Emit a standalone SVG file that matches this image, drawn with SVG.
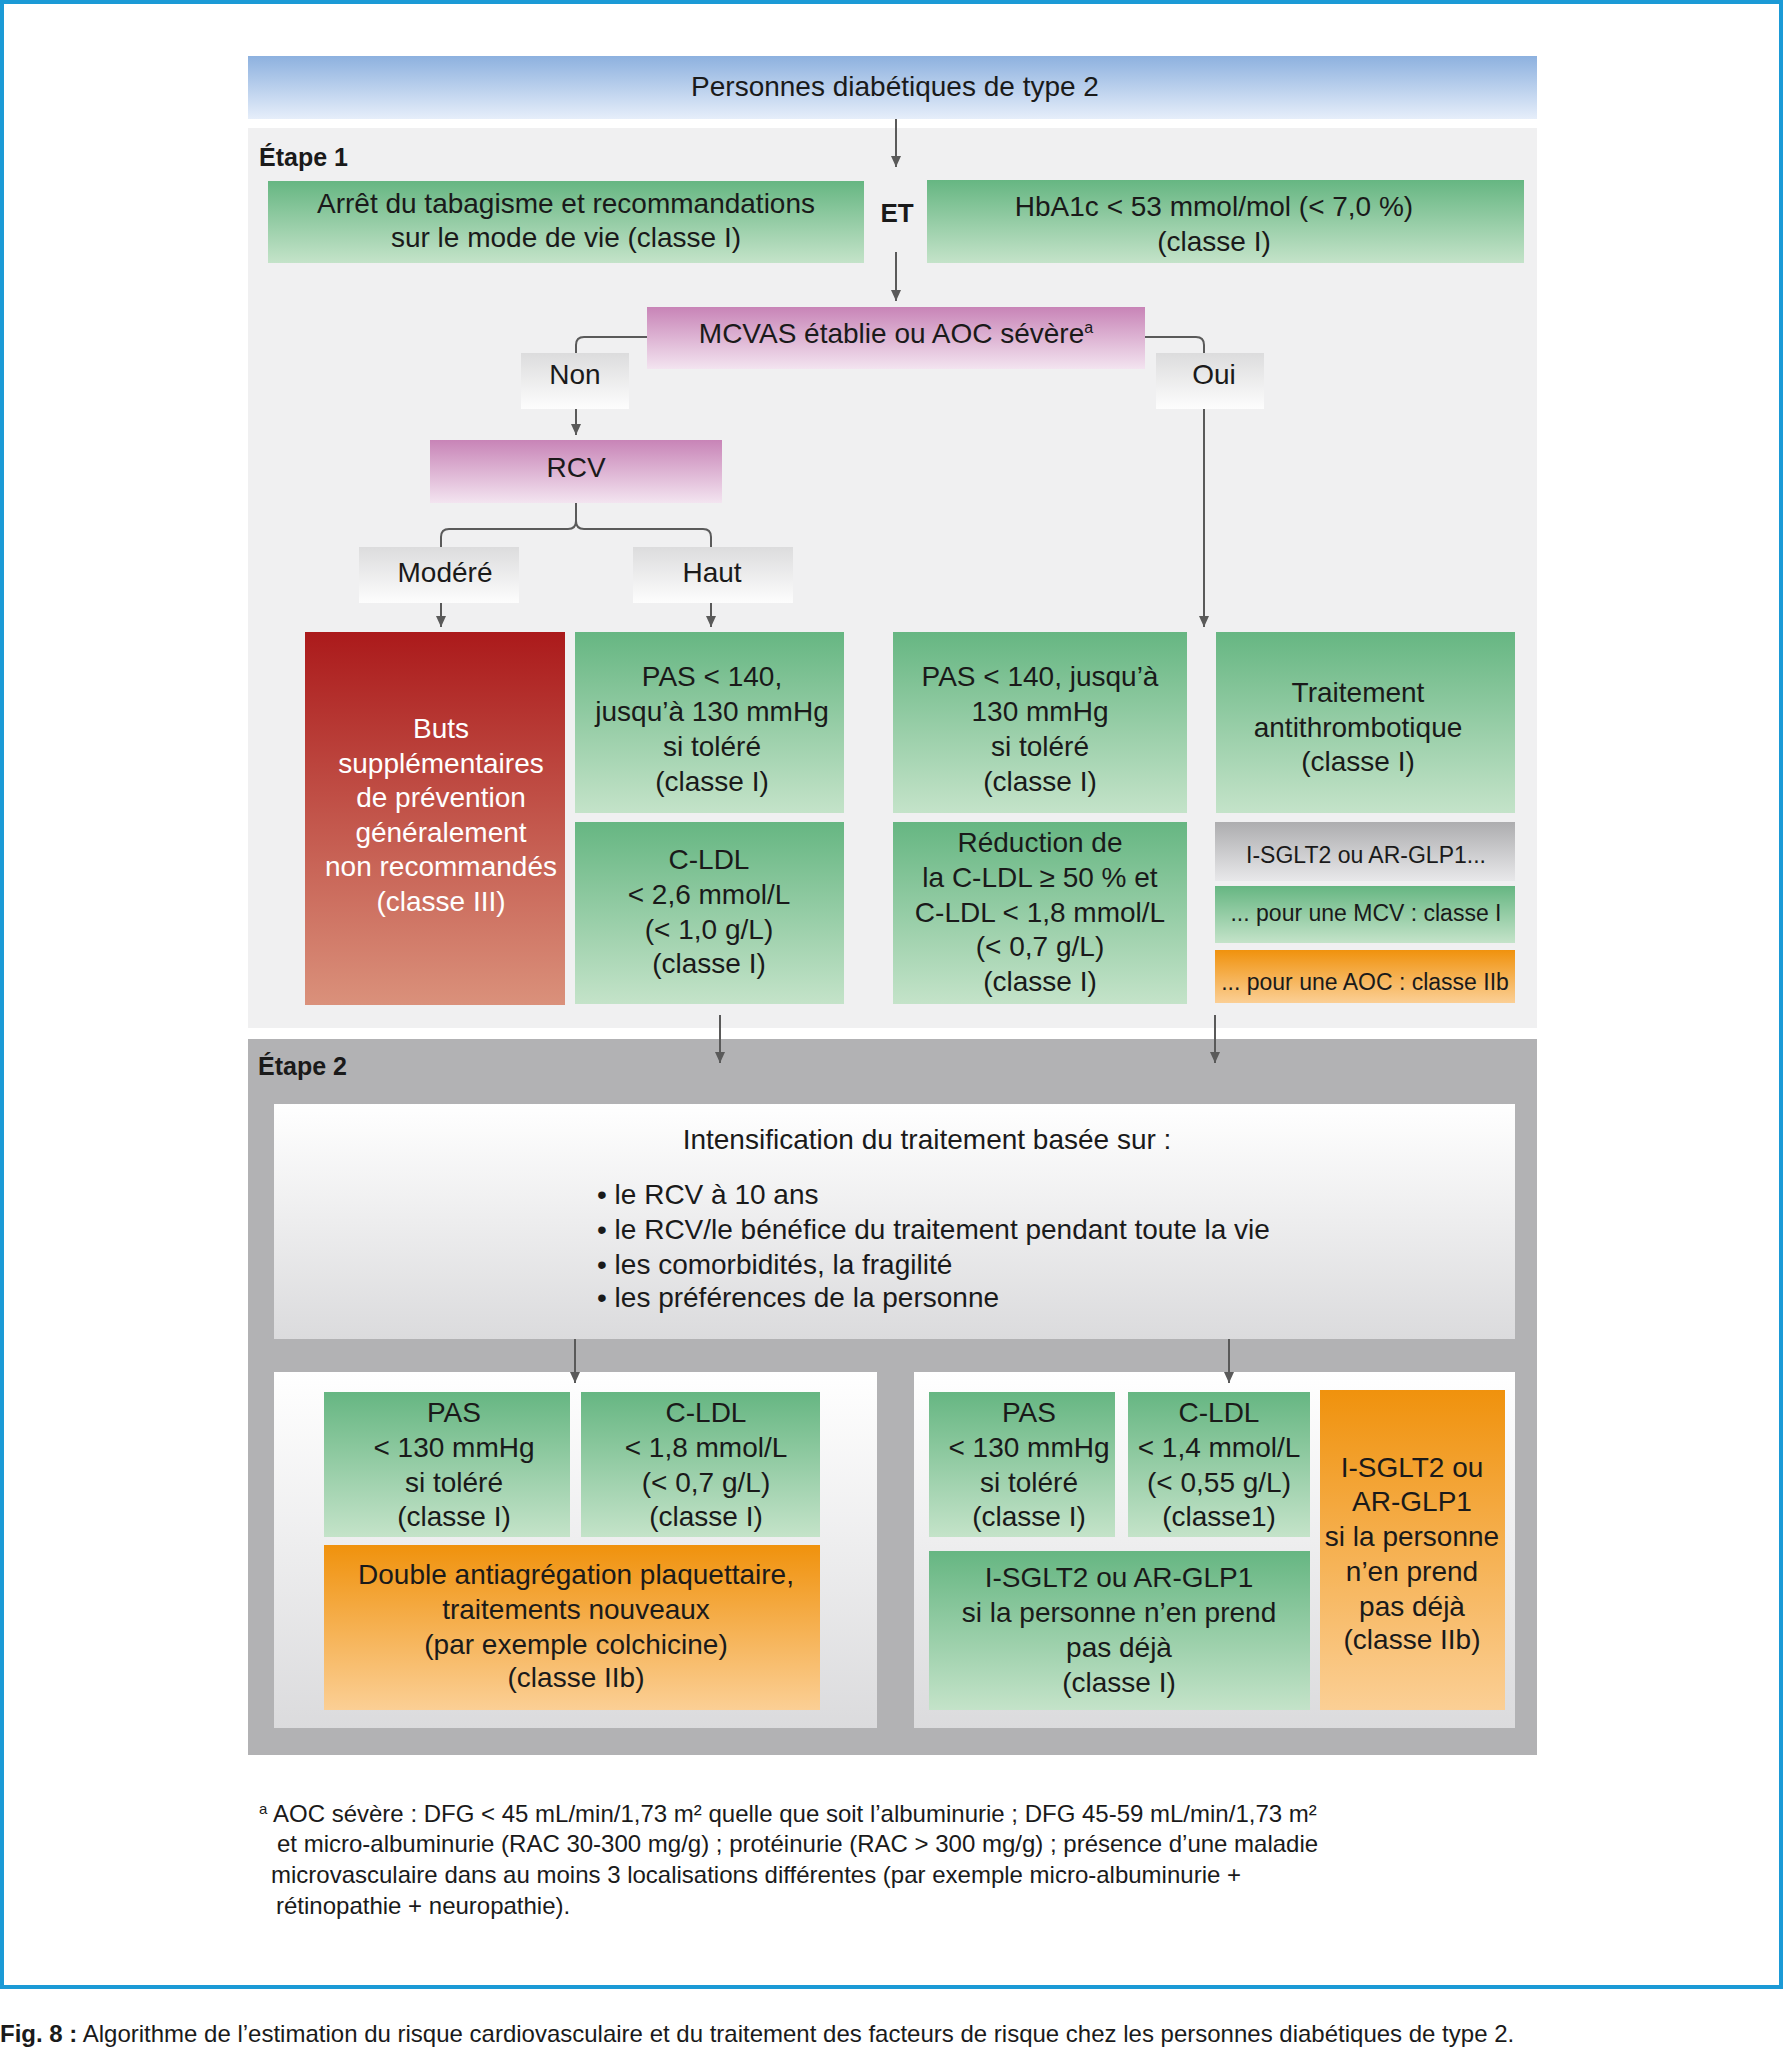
<svg xmlns="http://www.w3.org/2000/svg" width="1785" height="2048" viewBox="0 0 1785 2048">
<defs>
<linearGradient id="gBlue" x1="0" y1="0" x2="0" y2="1"><stop offset="0" stop-color="#8db1df"/><stop offset="1" stop-color="#e6eefa"/></linearGradient>
<linearGradient id="gGreen" x1="0" y1="0" x2="0" y2="1"><stop offset="0" stop-color="#66b682"/><stop offset="1" stop-color="#c4e3c9"/></linearGradient>
<linearGradient id="gRed" x1="0" y1="0" x2="0" y2="1"><stop offset="0" stop-color="#ab1a1b"/><stop offset="1" stop-color="#da917b"/></linearGradient>
<linearGradient id="gOrange" x1="0" y1="0" x2="0" y2="1"><stop offset="0" stop-color="#f0920d"/><stop offset="1" stop-color="#fbcf95"/></linearGradient>
<linearGradient id="gPink" x1="0" y1="0" x2="0" y2="1"><stop offset="0" stop-color="#c884b7"/><stop offset="1" stop-color="#f3e4f0"/></linearGradient>
<linearGradient id="gLabel" x1="0" y1="0" x2="0" y2="1"><stop offset="0" stop-color="#dcdcdd"/><stop offset="1" stop-color="#fdfdfd"/></linearGradient>
<linearGradient id="gGray" x1="0" y1="0" x2="0" y2="1"><stop offset="0" stop-color="#adadaf"/><stop offset="1" stop-color="#e8e8ea"/></linearGradient>
<linearGradient id="gWhite" x1="0" y1="0" x2="0" y2="1"><stop offset="0" stop-color="#ffffff"/><stop offset="1" stop-color="#dbdbdd"/></linearGradient>
<marker id="arr" markerUnits="userSpaceOnUse" markerWidth="12" markerHeight="12" refX="11" refY="5" orient="auto"><path d="M0,0 L11,5 L0,10 z" fill="#5a5a5a"/></marker>
<style>
text{font-family:"Liberation Sans",Arial,sans-serif;fill:#1a1a1a;}
.t{font-size:28px;text-anchor:middle;}
.s{font-size:23px;text-anchor:middle;}
.w{fill:#ffffff;}
.b{font-weight:bold;}
.l{font-size:28px;}
.fn{font-size:24px;}
.cap{font-size:24px;}
.con{fill:none;stroke:#5a5a5a;stroke-width:2;}
</style>
</defs>
<rect x="0" y="0" width="1785" height="2048" fill="#ffffff"/>
<rect x="2" y="2" width="1779" height="1985" fill="#ffffff" stroke="#1b9ad6" stroke-width="4"/>

<g id="panels">
<rect x="248" y="128" width="1289" height="900" fill="#f0f0f1"/>
<rect x="248" y="1039" width="1289" height="716" fill="#b2b2b4"/>
<rect x="274" y="1372" width="603" height="356" fill="url(#gWhite)"/>
<rect x="914" y="1372" width="601" height="356" fill="url(#gWhite)"/>
<text x="259" y="166" class="b" style="font-size:25px">Étape 1</text>
<text x="258" y="1075" class="b" style="font-size:25px">Étape 2</text>
</g>

<g id="header"><rect x="248" y="56" width="1289" height="63" fill="url(#gBlue)"/><text x="895" y="96" class="t">Personnes diabétiques de type 2</text></g>

<g id="smoking"><rect x="268" y="181" width="596" height="82" fill="url(#gGreen)"/><text x="566" y="213" class="t">Arrêt du tabagisme et recommandations</text><text x="566" y="247" class="t">sur le mode de vie (classe I)</text></g>
<g id="et"><text x="897" y="222" class="t b" style="font-size:26px">ET</text></g>
<g id="hba1c"><rect x="927" y="180" width="597" height="83" fill="url(#gGreen)"/><text x="1214" y="216" class="t">HbA1c &lt; 53 mmol/mol (&lt; 7,0 %)</text><text x="1214" y="251" class="t">(classe I)</text></g>

<g id="mcvas"><rect x="647" y="307" width="498" height="62" fill="url(#gPink)"/><text x="896" y="343" class="t">MCVAS établie ou AOC sévère<tspan dy="-10" style="font-size:16px">a</tspan></text></g>
<g id="non"><rect x="521" y="353" width="108" height="56" fill="url(#gLabel)"/><text x="575" y="384" class="t">Non</text></g>
<g id="oui"><rect x="1156" y="353" width="108" height="56" fill="url(#gLabel)"/><text x="1214" y="384" class="t">Oui</text></g>
<g id="rcv"><rect x="430" y="440" width="292" height="63" fill="url(#gPink)"/><text x="576" y="477" class="t">RCV</text></g>
<g id="modere"><rect x="359" y="547" width="160" height="56" fill="url(#gLabel)"/><text x="445" y="582" class="t">Modéré</text></g>
<g id="haut"><rect x="633" y="547" width="160" height="56" fill="url(#gLabel)"/><text x="712" y="582" class="t">Haut</text></g>

<g id="buts"><rect x="305" y="632" width="260" height="373" fill="url(#gRed)"/>
<text class="t w"><tspan x="441" y="738">Buts</tspan><tspan x="441" y="773">supplémentaires</tspan><tspan x="441" y="807">de prévention</tspan><tspan x="441" y="842">généralement</tspan><tspan x="441" y="876">non recommandés</tspan><tspan x="441" y="911">(classe III)</tspan></text></g>
<g id="pas1"><rect x="575" y="632" width="269" height="181" fill="url(#gGreen)"/>
<text class="t"><tspan x="712" y="686">PAS &lt; 140,</tspan><tspan x="712" y="721">jusqu’à 130 mmHg</tspan><tspan x="712" y="756">si toléré</tspan><tspan x="712" y="791">(classe I)</tspan></text></g>
<g id="cldl1"><rect x="575" y="822" width="269" height="182" fill="url(#gGreen)"/>
<text class="t"><tspan x="709" y="869">C-LDL</tspan><tspan x="709" y="904">&lt; 2,6 mmol/L</tspan><tspan x="709" y="939">(&lt; 1,0 g/L)</tspan><tspan x="709" y="973">(classe I)</tspan></text></g>
<g id="pas2"><rect x="893" y="632" width="294" height="181" fill="url(#gGreen)"/>
<text class="t"><tspan x="1040" y="686">PAS &lt; 140, jusqu’à</tspan><tspan x="1040" y="721">130 mmHg</tspan><tspan x="1040" y="756">si toléré</tspan><tspan x="1040" y="791">(classe I)</tspan></text></g>
<g id="reduction"><rect x="893" y="822" width="294" height="182" fill="url(#gGreen)"/>
<text class="t"><tspan x="1040" y="852">Réduction de</tspan><tspan x="1040" y="887">la C-LDL ≥ 50 % et</tspan><tspan x="1040" y="922">C-LDL &lt; 1,8 mmol/L</tspan><tspan x="1040" y="956">(&lt; 0,7 g/L)</tspan><tspan x="1040" y="991">(classe I)</tspan></text></g>
<g id="antithrombo"><rect x="1216" y="632" width="299" height="181" fill="url(#gGreen)"/>
<text class="t"><tspan x="1358" y="702">Traitement</tspan><tspan x="1358" y="737">antithrombotique</tspan><tspan x="1358" y="771">(classe I)</tspan></text></g>
<g id="sglt2a"><rect x="1215" y="822" width="300" height="59" fill="url(#gGray)"/><text x="1366" y="863" class="s">I-SGLT2 ou AR-GLP1...</text></g>
<g id="mcv"><rect x="1215" y="886" width="300" height="57" fill="url(#gGreen)"/><text x="1366" y="921" class="s">... pour une MCV : classe I</text></g>
<g id="aoc"><rect x="1215" y="950" width="300" height="53" fill="url(#gOrange)"/><text x="1365" y="990" class="s">... pour une AOC : classe IIb</text></g>

<g id="intensification"><rect x="274" y="1104" width="1241" height="235" fill="url(#gWhite)"/>
<text x="927" y="1149" class="t">Intensification du traitement basée sur :</text>
<text class="l"><tspan x="597" y="1204">• le RCV à 10 ans</tspan><tspan x="597" y="1239">• le RCV/le bénéfice du traitement pendant toute la vie</tspan><tspan x="597" y="1274">• les comorbidités, la fragilité</tspan><tspan x="597" y="1307">• les préférences de la personne</tspan></text></g>

<g id="pas3"><rect x="324" y="1392" width="246" height="145" fill="url(#gGreen)"/>
<text class="t"><tspan x="454" y="1422">PAS</tspan><tspan x="454" y="1457">&lt; 130 mmHg</tspan><tspan x="454" y="1492">si toléré</tspan><tspan x="454" y="1526">(classe I)</tspan></text></g>
<g id="cldl3"><rect x="581" y="1392" width="239" height="145" fill="url(#gGreen)"/>
<text class="t"><tspan x="706" y="1422">C-LDL</tspan><tspan x="706" y="1457">&lt; 1,8 mmol/L</tspan><tspan x="706" y="1492">(&lt; 0,7 g/L)</tspan><tspan x="706" y="1526">(classe I)</tspan></text></g>
<g id="double"><rect x="324" y="1545" width="496" height="165" fill="url(#gOrange)"/>
<text class="t"><tspan x="576" y="1584">Double antiagrégation plaquettaire,</tspan><tspan x="576" y="1619">traitements nouveaux</tspan><tspan x="576" y="1654">(par exemple colchicine)</tspan><tspan x="576" y="1687">(classe IIb)</tspan></text></g>

<g id="pas4"><rect x="929" y="1392" width="186" height="145" fill="url(#gGreen)"/>
<text class="t"><tspan x="1029" y="1422">PAS</tspan><tspan x="1029" y="1457">&lt; 130 mmHg</tspan><tspan x="1029" y="1492">si toléré</tspan><tspan x="1029" y="1526">(classe I)</tspan></text></g>
<g id="cldl4"><rect x="1128" y="1392" width="182" height="145" fill="url(#gGreen)"/>
<text class="t"><tspan x="1219" y="1422">C-LDL</tspan><tspan x="1219" y="1457">&lt; 1,4 mmol/L</tspan><tspan x="1219" y="1492">(&lt; 0,55 g/L)</tspan><tspan x="1219" y="1526">(classe1)</tspan></text></g>
<g id="sglt2b"><rect x="929" y="1551" width="381" height="159" fill="url(#gGreen)"/>
<text class="t"><tspan x="1119" y="1587">I-SGLT2 ou AR-GLP1</tspan><tspan x="1119" y="1622">si la personne n’en prend</tspan><tspan x="1119" y="1657">pas déjà</tspan><tspan x="1119" y="1692">(classe I)</tspan></text></g>
<g id="sglt2c"><rect x="1320" y="1390" width="185" height="320" fill="url(#gOrange)"/>
<text class="t"><tspan x="1412" y="1477">I-SGLT2 ou</tspan><tspan x="1412" y="1511">AR-GLP1</tspan><tspan x="1412" y="1546">si la personne</tspan><tspan x="1412" y="1581">n’en prend</tspan><tspan x="1412" y="1616">pas déjà</tspan><tspan x="1412" y="1649">(classe IIb)</tspan></text></g>

<g id="connectors">
<path class="con" d="M896,119 V167" marker-end="url(#arr)"/>
<path class="con" d="M896,252 V301" marker-end="url(#arr)"/>
<path class="con" d="M647,337 H584 Q576,337 576,345 V353"/>
<path class="con" d="M1145,337 H1196 Q1204,337 1204,345 V353"/>
<path class="con" d="M576,409 V435" marker-end="url(#arr)"/>
<path class="con" d="M1204,409 V627" marker-end="url(#arr)"/>
<path class="con" d="M576,503 V521 Q576,529 568,529 H449 Q441,529 441,537 V547"/>
<path class="con" d="M576,521 Q576,529 584,529 H703 Q711,529 711,537 V547"/>
<path class="con" d="M441,603 V627" marker-end="url(#arr)"/>
<path class="con" d="M711,603 V627" marker-end="url(#arr)"/>
<path class="con" d="M720,1015 V1063" marker-end="url(#arr)"/>
<path class="con" d="M1215,1015 V1063" marker-end="url(#arr)"/>
<path class="con" d="M575,1339 V1383" marker-end="url(#arr)"/>
<path class="con" d="M1229,1339 V1383" marker-end="url(#arr)"/>
</g>

<g id="footnote">
<text x="259" y="1814" style="font-size:15px">a</text>
<text class="fn"><tspan x="273" y="1822">AOC sévère : DFG &lt; 45 mL/min/1,73 m² quelle que soit l’albuminurie ; DFG 45-59 mL/min/1,73 m²</tspan><tspan x="277" y="1852">et micro-albuminurie (RAC 30-300 mg/g) ; protéinurie (RAC &gt; 300 mg/g) ; présence d’une maladie</tspan><tspan x="271" y="1883">microvasculaire dans au moins 3 localisations différentes (par exemple micro-albuminurie +</tspan><tspan x="276" y="1914">rétinopathie + neuropathie).</tspan></text>
</g>
<g id="caption"><text x="0" y="2042" class="cap"><tspan class="b">Fig. 8 :</tspan> Algorithme de l’estimation du risque cardiovasculaire et du traitement des facteurs de risque chez les personnes diabétiques de type 2.</text></g>
</svg>
